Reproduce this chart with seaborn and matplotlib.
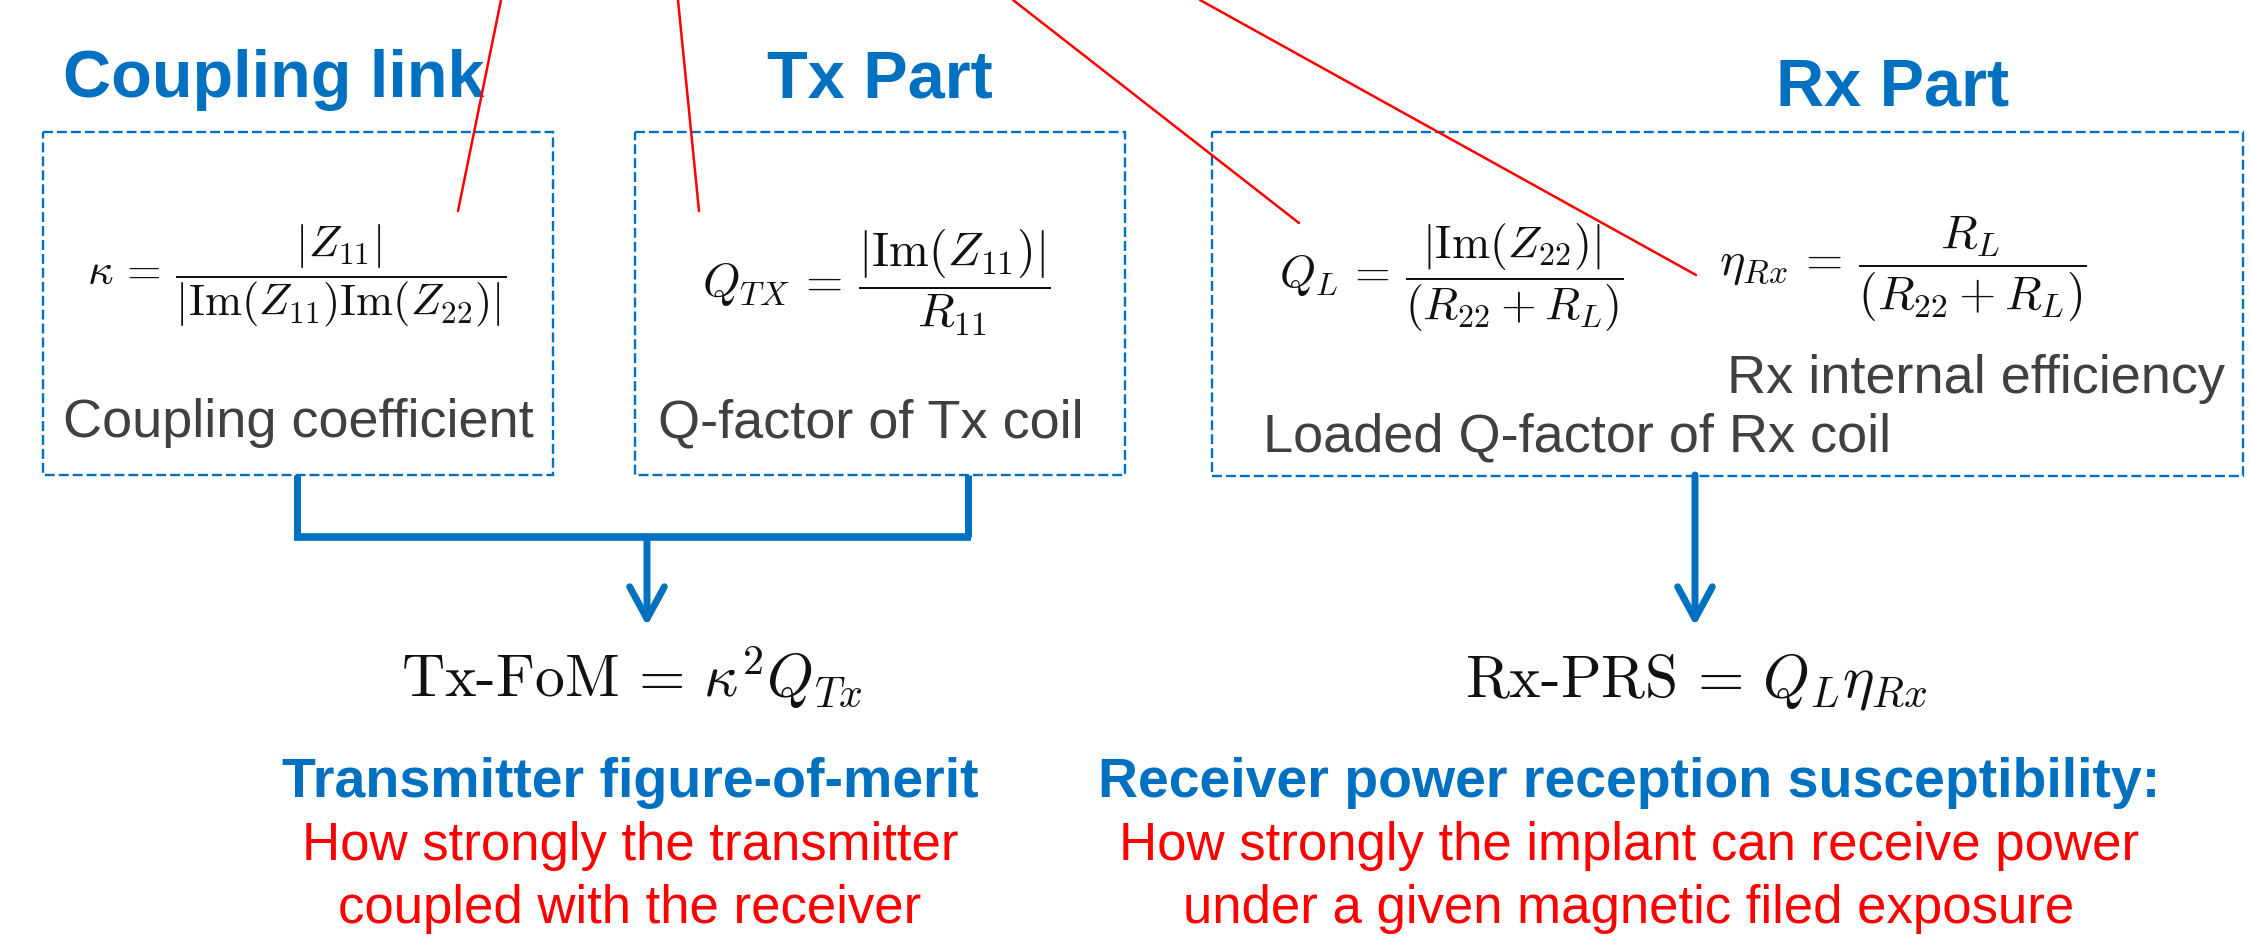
import matplotlib
matplotlib.use("Agg")
import matplotlib.pyplot as plt
import seaborn as sns
from matplotlib.patches import Rectangle, FancyArrowPatch

# -------------------------------
# Contenido del diagrama
# -------------------------------
section_titles = ["Coupling link", "Tx Part", "Rx Part"]
box_formulas = [
    r"$\kappa\,=\,\dfrac{|Z_{11}|}{|\mathrm{Im}(Z_{11})\mathrm{Im}(Z_{22})|}$",
    r"$Q_{TX}\,=\,\dfrac{|\mathrm{Im}(Z_{11})|}{R_{11}}$",
    r"$Q_{L}\,=\,\dfrac{|\mathrm{Im}(Z_{22})|}{(R_{22} + R_{L})}$",
    r"$\eta_{Rx}\,=\,\dfrac{R_{L}}{(R_{22} + R_{L})}$",
]
box_labels = ["Coupling coefficient", "Q-factor of Tx coil",
              "Rx internal efficiency", "Loaded Q-factor of Rx coil"]
merit_formulas = [r"$\text{Tx-FoM}\,=\,\kappa^{2}Q_{Tx}$",
                  r"$\text{Rx-PRS}\,=\,Q_{L}\eta_{Rx}$"]
merit_names = ["Transmitter figure-of-merit",
               "Receiver power reception susceptibility:"]
merit_notes = [["How strongly the transmitter", "coupled with the receiver"],
               ["How strongly the implant can receive power",
                "under a given magnetic filed exposure"]]

# -------------------------------
# Posiciones y tamanos (pixeles de la figura)
# -------------------------------
title_pos = [(274, 97), (880, 97), (1893, 106)]
boxes = [(43, 132, 553, 475), (635, 132, 1125, 475), (1212, 132, 2243, 476)]
formula_pos = [(297, 276), (876, 282), (1451, 278), (1903, 268)]
formula_size = [32, 34.5, 33, 34.5]
label_pos = [(298, 437, "center"), (871, 437, "center"),
             (1727, 393, "left"), (1263, 452, "left")]
leaders = [((501, 0), (458, 211)), ((678, 0), (699, 211)),
           ((1013, 0), (1299, 223)), ((1200, 0), (1696, 275))]
merit_x = [632, 1696]
name_x = [630, 1629]

BLUE = "#0070C0"
RED = "#FF0000"
GREY = "#404040"

sns.set_theme(style="white")
plt.rcParams["font.family"] = ["Liberation Sans", "DejaVu Sans"]
plt.rcParams["mathtext.fontset"] = "cm"

fig = plt.figure(figsize=(22.51, 9.43), dpi=100)
ax = fig.add_axes([0, 0, 1, 1])
ax.set_axis_off()

# cajas punteadas
for x0, y0, x1, y1 in boxes:
    ax.add_patch(Rectangle((x0, y0), x1 - x0, y1 - y0, fill=False,
                           edgecolor=BLUE, lw=1.7, ls=(0, (4.2, 1.7))))

# titulos de seccion
for txt, (x, y) in zip(section_titles, title_pos):
    ax.text(x, y, txt, color=BLUE, fontsize=48, fontweight="bold",
            ha="center", va="baseline")

# formulas dentro de las cajas
for f, (x, y), s in zip(box_formulas, formula_pos, formula_size):
    ax.text(x, y, f, fontsize=s, color="#111111", ha="center", va="center")

for txt, (x, y, ha) in zip(box_labels, label_pos):
    ax.text(x, y, txt, fontsize=39, color=GREY, ha=ha, va="baseline")

# lineas rojas de referencia
for (xa, ya), (xb, yb) in leaders:
    sns.lineplot(x=[xa, xb], y=[ya, yb], ax=ax, color=RED, lw=1.8,
                 sort=False, estimator=None, zorder=5)

# conectores azules
ax.plot([297, 297], [475, 537], color=BLUE, lw=5, solid_capstyle="butt")
ax.plot([968, 968], [475, 537], color=BLUE, lw=5, solid_capstyle="butt")
ax.plot([294, 971], [537, 537], color=BLUE, lw=5.5, solid_capstyle="butt")
for x, y0 in [(647, 537), (1695, 475)]:
    arr = FancyArrowPatch((x, y0), (x, 626), arrowstyle="->,head_length=23,head_width=12.5",
                          color=BLUE, lw=5, mutation_scale=1, shrinkA=0, shrinkB=0,
                          capstyle="round", joinstyle="round")
    ax.add_patch(arr)

# figuras de merito
for f, x in zip(merit_formulas, merit_x):
    ax.text(x, 697, f, fontsize=43, color="#111111", ha="center", va="baseline")
for txt, x in zip(merit_names, name_x):
    ax.text(x, 797, txt, fontsize=40, color=BLUE, fontweight="bold",
            ha="center", va="baseline")
for lines, x in zip(merit_notes, name_x):
    for txt, y in zip(lines, [860, 923]):
        ax.text(x, y, txt, fontsize=38, color=RED, ha="center", va="baseline")

ax.set_xlim(0, 2251)
ax.set_ylim(943, 0)
fig.savefig("out.png", dpi=100)
